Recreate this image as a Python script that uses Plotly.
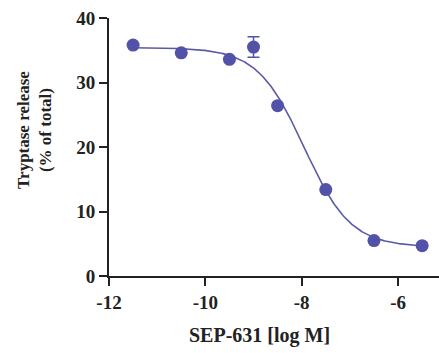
import numpy as np
import plotly.graph_objects as go

# Data
log_conc = [-11.5, -10.5, -9.5, -9.0, -8.5, -7.5, -6.5, -5.5]
release = [35.8, 34.6, 33.6, 35.5, 26.4, 13.4, 5.5, 4.7]
release_err = [0, 0, 0, 1.6, 0, 0, 0, 0]

# Fitted sigmoidal dose-response parameters
fit_top = 35.4
fit_bottom = 4.5
fit_logic50 = -7.95
fit_hill = 0.9

x_ticks = [-12, -10, -8, -6]
y_ticks = [0, 10, 20, 30, 40]

xc = np.linspace(min(log_conc), max(log_conc), 400)
yc = fit_bottom + (fit_top - fit_bottom) / (1 + 10 ** ((xc - fit_logic50) * fit_hill))

color = "#5252a8"
font = "Liberation Serif"
txt = "#222222"

fig = go.Figure()
fig.add_trace(go.Scatter(x=xc, y=yc, mode="lines",
                         line=dict(color="#5a5aa8", width=1.6), hoverinfo="skip"))
fig.add_trace(go.Scatter(x=log_conc, y=release, mode="markers",
                         marker=dict(color=color, size=13),
                         error_y=dict(type="data", array=release_err, visible=True,
                                      color=color, thickness=1.5, width=6)))

fig.update_layout(
    width=439, height=353,
    margin=dict(l=109, r=0, t=18, b=77),
    paper_bgcolor="white", plot_bgcolor="white",
    showlegend=False,
    font=dict(family=font, color=txt),
    xaxis=dict(range=[-12, -5.15], tickvals=x_ticks, ticktext=[f"<b>{v}</b>" for v in x_ticks],
               showgrid=False, zeroline=False, showline=True, linecolor="#222", linewidth=2,
               ticks="outside", ticklen=8, tickwidth=2, tickcolor="#222",
               tickfont=dict(family=font, size=19, color=txt)),
    yaxis=dict(range=[0, 40], tickvals=y_ticks, ticktext=[f"<b>{v}</b>" for v in y_ticks],
               showgrid=False, zeroline=False, showline=True, linecolor="#222", linewidth=2,
               ticks="outside", ticklen=8, tickwidth=2, tickcolor="#222",
               tickfont=dict(family=font, size=19, color=txt)),
    annotations=[
        dict(text="<b>SEP-631 [log M]</b>", x=0.456, y=-0.23, xref="paper", yref="paper",
             showarrow=False, xanchor="center", yanchor="middle",
             font=dict(family=font, size=20, color=txt)),
        dict(text="<b>Tryptase release<br>(% of total)</b>", x=-0.228, y=0.565,
             xref="paper", yref="paper", textangle=-90, showarrow=False,
             xanchor="center", yanchor="middle",
             font=dict(family=font, size=17, color=txt)),
    ],
)
fig.update_traces(cliponaxis=False)

fig.write_html("out.html")
